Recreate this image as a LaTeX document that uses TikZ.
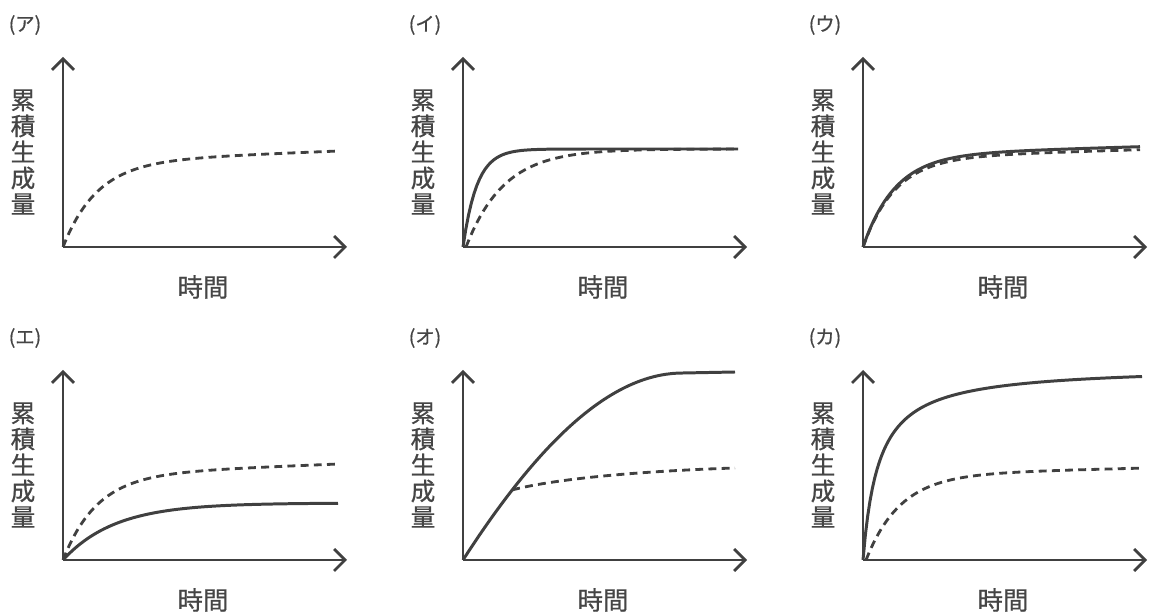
\documentclass[tikz,border=0pt]{standalone}
\usepackage{fontspec}
\setmainfont{Noto Sans CJK JP}[FakeBold=0.7]
\usetikzlibrary{arrows.meta}
\definecolor{ink}{HTML}{404040}
\definecolor{txt}{HTML}{454545}
\tikzset{
	axis/.style={ink, line width=1.6pt, -{Straight Barb[length=2.2mm,width=4.4mm,line width=1.6pt]}},
	ctrl/.style={ink, line width=1.6pt, dash pattern=on 4.5pt off 3pt},
	expt/.style={ink, line width=1.7pt},
	ylab/.style={txt, align=center, font=\fontsize{14pt}{14.8pt}\selectfont},
	xlab/.style={txt, font=\fontsize{14.5pt}{16pt}\selectfont},
	tag/.style={txt, font=\fontsize{11pt}{12pt}\selectfont}
}
\begin{document}
\begin{tikzpicture}[x=0.02cm,y=0.02cm]
	\useasboundingbox (0,0) rectangle (1150,615);
	\foreach \n/\px/\py/\t in {1/63/368/ア,2/463/368/イ,3/863/368/ウ,4/63/55/エ,5/463/55/オ,6/863/55/カ}{
		\coordinate (o\n) at (\px,\py);
		\coordinate (ye\n) at (\px,\py+190);
		\coordinate (xe\n) at (\px+284,\py);
		\draw[axis] (o\n)--(ye\n);
		\draw[axis] (o\n)--(xe\n);
		\node[tag] (tag\n) at (\px-38,\py+222) {(\t)};
		\node[ylab] (ylab\n) at (\px-40,\py+95) {累\\積\\生\\成\\量};
		\node[xlab] (xlab\n) at (\px+140,\py-40) {時間};
	}
	\begin{scope}[shift={(o1)}]
		\draw[ctrl] plot[domain=0:275,samples=80] (\x,{85*(1-exp(-\x/34))+0.04*\x});
	\end{scope}
	\begin{scope}[shift={(o2)}]
		\draw[expt] plot[domain=0:275,samples=100] (\x,{98*(1-exp(-\x/14))});
		\draw[ctrl] plot[domain=3:275,samples=80] (\x,{98*(1-exp(-(\x-3)/38))});
	\end{scope}
	\begin{scope}[shift={(o3)}]
		\draw[expt] plot[domain=0:277,samples=80] (\x,{92*(1-exp(-\x/32))+0.03*\x});
		\draw[ctrl] plot[domain=0:277,samples=80] (\x,{89*(1-exp(-\x/32))+0.03*\x});
	\end{scope}
	\begin{scope}[shift={(o4)}]
		\draw[ctrl] plot[domain=0:275,samples=80] (\x,{85*(1-exp(-\x/34))+0.04*\x});
		\draw[expt] plot[domain=0:275,samples=80] (\x,{57*(1-exp(-\x/52))});
	\end{scope}
	\begin{scope}[shift={(o5)}]
		\draw[expt] (0,0) .. controls (90,140) and (160,187) .. (220,187) coordinate[pos=0.19] (brk5) -- (272,188);
		\draw[ctrl] (brk5) .. controls ++(30,8) and (150,88) .. (272,92);
	\end{scope}
	\begin{scope}[shift={(o6)}]
		\draw[expt] plot[domain=0:279,samples=120] (\x,{\x/(\x+16)*194});
		\draw[ctrl] plot[domain=3:279,samples=80] (\x,{85*(1-exp(-(\x-3)/34))+0.025*(\x-3)});
	\end{scope}
\end{tikzpicture}
\end{document}
